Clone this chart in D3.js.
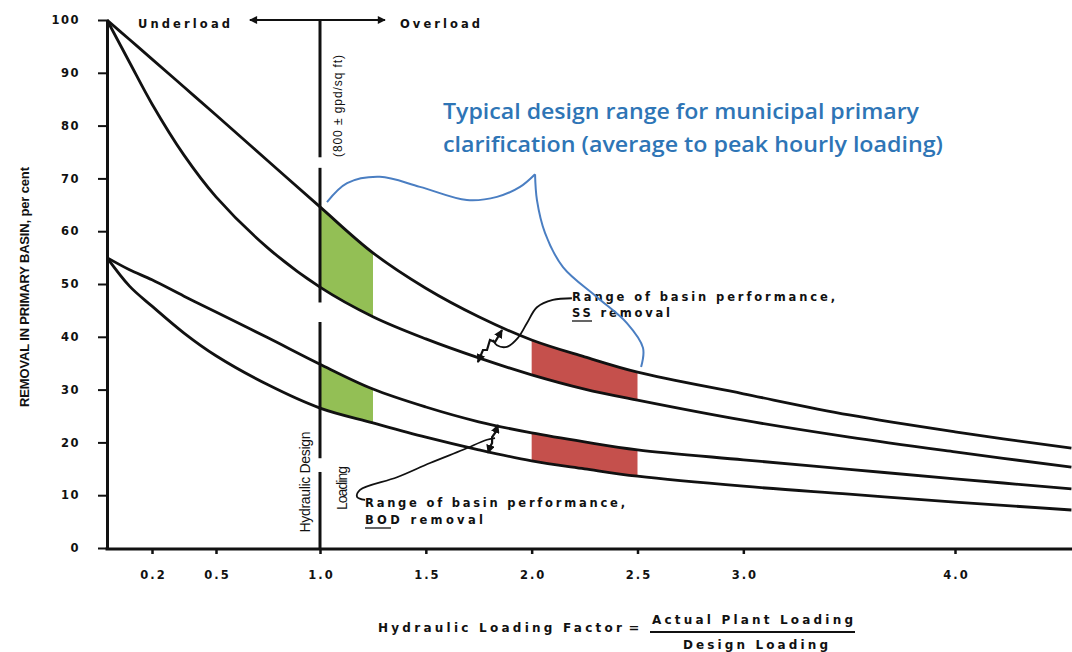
<!DOCTYPE html>
<html>
<head>
<meta charset="utf-8">
<style>
  body { margin: 0; background: #fff; }
  svg { display: block; }
  text { font-family: "DejaVu Sans", "Liberation Sans", sans-serif; fill: #111; }
</style>
</head>
<body>
<script src="https://cdn.jsdelivr.net/npm/d3@7"></script>
<script>
var width = 1072, height = 652;

var loadFactor = [0, 0.1, 0.2, 0.35, 0.5, 0.75, 1.0, 1.25, 1.5, 1.75, 2.0, 2.25, 2.5, 3.0, 3.5, 4.0, 4.55];
// removal, per cent
var ssUpper  = [100, 96.3, 92.6, 87.3, 82.0, 73.3, 64.6, 55.9, 49.2, 43.8, 39.4, 36.2, 33.3, 29.2, 25.2, 22.0, 18.9];
var ssLower  = [100, 92.0, 84.1, 74.4, 66.5, 56.8, 49.4, 43.8, 39.6, 36.0, 32.8, 30.1, 28.0, 24.2, 21.0, 18.2, 15.3];
var bodUpper = [55, 52.7, 50.8, 47.7, 44.7, 39.8, 34.8, 30.1, 26.7, 23.9, 21.8, 20.1, 18.6, 16.7, 14.9, 13.1, 11.2];
var bodLower = [55, 49.6, 45.8, 40.7, 36.4, 30.9, 26.5, 23.7, 21.0, 18.6, 16.5, 15.0, 13.6, 11.7, 10.2, 8.7, 7.2];

var yTicks = [0, 10, 20, 30, 40, 50, 60, 70, 80, 90, 100];
var xTicks = [0.2, 0.5, 1.0, 1.5, 2.0, 2.5, 3.0, 4.0];
var xTickLabels = ["0.2", "0.5", "1.0", "1.5", "2.0", "2.5", "3.0", "4.0"];

var designRange = [1.0, 1.25];   // green
var peakRange = [2.0, 2.5];      // red
var designLine = [[100, 74], [72, 46.5], [42.8, 17], [14.4, 0]];  // broken vertical at 1.0
var loadArrow = [0.663, 1.307];

// annotation paths, [factor, per cent]
var braceLeft = [[1.033, 65.5], [1.128, 69.1], [1.283, 70.3], [1.472, 68.4], [1.694, 65.9], [1.836, 66.5], [1.945, 68.4], [2.016, 70.8]];
var braceRight = [[2.016, 70.8], [2.025, 65.9], [2.063, 59.7], [2.148, 53.2], [2.309, 47.5], [2.450, 42.6], [2.526, 37.9], [2.517, 34.3]];
var ssArrow = [[1.86, 41.3], [1.827, 39.0], [1.803, 39.4], [1.789, 37.5], [1.770, 37.5], [1.746, 35.2]];
var bodArrow = [[1.841, 23.3], [1.827, 21.8], [1.813, 21.0], [1.813, 19.9], [1.803, 19.1], [1.794, 18.0]];
var ssLeader = [[2.19, 47.3], [2.10, 47.0], [2.025, 45.6], [1.978, 42.6], [1.935, 39.8], [1.883, 38.1], [1.836, 38.4], [1.817, 39.4]];
var bodLeader = [[1.213, 9.1], [1.175, 9.7], [1.189, 11.0], [1.364, 13.4], [1.52, 16.1], [1.676, 18.6], [1.789, 20.5], [1.827, 20.8]];

var rows = loadFactor.map(function(f, i) {
  return { f: f, ssU: ssUpper[i], ssL: ssLower[i], bodU: bodUpper[i], bodL: bodLower[i] };
});

var x = d3.scaleLinear().domain([0, 0.2, 0.5, 1, 4]).range([107, 152, 216, 320, 955]);
var y = d3.scaleLinear().domain([0, 100]).range([548, 20]);

var svg = d3.select("body").append("svg")
    .attr("width", width)
    .attr("height", height);

svg.append("rect").attr("width", width).attr("height", height).attr("fill", "#fff");

var defs = svg.append("defs");
function marker(id, w, h) {
  defs.append("marker")
      .attr("id", id)
      .attr("viewBox", "0 0 10 10")
      .attr("refX", 9).attr("refY", 5)
      .attr("markerWidth", w).attr("markerHeight", h)
      .attr("orient", "auto-start-reverse")
    .append("path")
      .attr("d", "M0,0L10,5L0,10Z")
      .attr("fill", "#111");
}
marker("ah", 6, 4);
marker("ahs", 4, 4);

function clipFor(id, range) {
  defs.append("clipPath").attr("id", id)
    .append("rect")
      .attr("x", x(range[0]))
      .attr("y", 0)
      .attr("width", x(range[1]) - x(range[0]))
      .attr("height", height);
}
clipFor("clipDesign", designRange);
clipFor("clipPeak", peakRange);

var curve = d3.curveCatmullRom.alpha(0.5);

function band(hi, lo) {
  return d3.area()
    .x(function(d) { return x(d.f); })
    .y0(function(d) { return y(d[lo]); })
    .y1(function(d) { return y(d[hi]); })
    .curve(curve);
}

// shaded ranges
[["clipDesign", "#93bf55"], ["clipPeak", "#c5504c"]].forEach(function(c) {
  var g = svg.append("g").attr("clip-path", "url(#" + c[0] + ")");
  g.append("path").datum(rows).attr("d", band("ssU", "ssL")).attr("fill", c[1]);
  g.append("path").datum(rows).attr("d", band("bodU", "bodL")).attr("fill", c[1]);
});

// curves
["ssU", "ssL", "bodU", "bodL"].forEach(function(k) {
  svg.append("path")
    .datum(rows)
    .attr("fill", "none")
    .attr("stroke", "#111")
    .attr("stroke-width", 2.8)
    .attr("stroke-linejoin", "round")
    .attr("d", d3.line()
      .x(function(d) { return x(d.f); })
      .y(function(d) { return y(d[k]); })
      .curve(curve));
});

// axes
var yAxis = svg.append("g")
    .attr("transform", "translate(" + x(0) + ",0)")
    .call(d3.axisLeft(y).tickValues(yTicks).tickSize(9).tickSizeOuter(0).tickPadding(18));
yAxis.attr("font-family", null).attr("font-size", null);
yAxis.select(".domain").attr("stroke", "#111").attr("stroke-width", 3);
yAxis.selectAll(".tick line").attr("stroke", "#111").attr("stroke-width", 2);
yAxis.selectAll(".tick text")
    .style("font-size", "11.5px").style("font-weight", "bold").style("letter-spacing", "1.5px");

var xAxis = svg.append("g")
    .attr("transform", "translate(0,549)")
    .call(d3.axisBottom(x).tickValues(xTicks).tickSize(5).tickPadding(17)
      .tickFormat(function(d, i) { return xTickLabels[i]; }));
xAxis.attr("font-family", null).attr("font-size", null);
xAxis.select(".domain").remove();
xAxis.selectAll(".tick line").attr("stroke", "#111").attr("stroke-width", 2.5);
xAxis.selectAll(".tick text")
    .attr("dx", "1px")
    .style("font-size", "11.5px").style("font-weight", "bold").style("letter-spacing", "2px");
xAxis.append("line")
    .attr("x1", x(0) - 1.5).attr("x2", width)
    .attr("stroke", "#111").attr("stroke-width", 3);

// design loading line at 1.0
svg.append("g").selectAll("line")
  .data(designLine)
  .enter().append("line")
    .attr("x1", x(1)).attr("x2", x(1))
    .attr("y1", function(d) { return y(d[0]); })
    .attr("y2", function(d) { return y(d[1]); })
    .attr("stroke", "#111").attr("stroke-width", 3);

// underload / overload arrow
svg.append("line")
    .attr("x1", x(loadArrow[0])).attr("x2", x(loadArrow[1]))
    .attr("y1", y(100)).attr("y2", y(100))
    .attr("stroke", "#111").attr("stroke-width", 2)
    .attr("marker-start", "url(#ah)").attr("marker-end", "url(#ah)");

function txt(s, px, py, opt) {
  opt = opt || {};
  var t = svg.append("text")
      .attr("x", px).attr("y", py)
      .attr("text-anchor", opt.anchor || "start")
      .style("font-size", (opt.size || 11) + "px")
      .style("font-weight", opt.weight || "bold")
      .text(s);
  if (opt.family) t.style("font-family", opt.family);
  if (opt.fill) t.style("fill", opt.fill);
  if (opt.len) t.attr("textLength", opt.len).attr("lengthAdjust", opt.adjust || "spacing");
  if (opt.rotate) t.attr("transform", "rotate(-90," + px + "," + py + ")");
  return t;
}

txt("Underload", 138, 28, { size: 11.5, len: 92 });
txt("Overload", 400, 28, { size: 11.5, len: 80 });

var narrow = "Liberation Sans Narrow, Liberation Sans";
txt("(800 \u00b1 gpd/sq ft)", 342, 106, { anchor: "middle", size: 12, weight: "normal", family: narrow, len: 102, rotate: true });
txt("Hydraulic Design", 310, 482, { anchor: "middle", size: 14, weight: "normal", family: narrow, len: 101, rotate: true });
txt("Loading", 347, 488, { anchor: "middle", size: 14, weight: "normal", family: narrow, len: 44, rotate: true });

txt("REMOVAL IN PRIMARY BASIN, per cent", 29, 287, { anchor: "middle", size: 13, family: narrow, len: 240, rotate: true });

// x axis title
txt("Hydraulic Loading Factor", 378, 632, { size: 12, len: 244 });
txt("=", 634, 632, { anchor: "middle", size: 13 });
txt("Actual Plant Loading", 652, 624, { size: 12, len: 201 });
svg.append("line").attr("x1", 650).attr("x2", 855).attr("y1", 632).attr("y2", 632)
    .attr("stroke", "#111").attr("stroke-width", 2);
txt("Design Loading", 683, 649, { size: 12, len: 145 });

// callouts
txt("Range of basin performance,", 572, 301, { size: 11.5, len: 263 });
txt("SS removal", 572, 317, { size: 11.5, len: 98 });
svg.append("line").attr("x1", 572).attr("x2", 592).attr("y1", 321).attr("y2", 321)
    .attr("stroke", "#111").attr("stroke-width", 1.3);
txt("Range of basin performance,", 365, 507, { size: 11.5, len: 260 });
txt("BOD removal", 365, 524, { size: 11.5, len: 118 });
svg.append("line").attr("x1", 365).attr("x2", 391).attr("y1", 528).attr("y2", 528)
    .attr("stroke", "#111").attr("stroke-width", 1.3);

var pathLine = d3.line()
    .x(function(d) { return x(d[0]); })
    .y(function(d) { return y(d[1]); });

[ssLeader, bodLeader].forEach(function(pts) {
  svg.append("path")
    .attr("d", pathLine.curve(d3.curveCatmullRom)(pts))
    .attr("fill", "none").attr("stroke", "#111").attr("stroke-width", 1.8);
});
[ssArrow, bodArrow].forEach(function(pts) {
  svg.append("path")
    .attr("d", pathLine.curve(d3.curveLinear)(pts))
    .attr("fill", "none").attr("stroke", "#111").attr("stroke-width", 2.2)
    .attr("marker-start", "url(#ahs)").attr("marker-end", "url(#ahs)");
});

// blue brace and note
[braceLeft, braceRight].forEach(function(pts) {
  svg.append("path")
    .attr("d", pathLine.curve(d3.curveCatmullRom)(pts))
    .attr("fill", "none").attr("stroke", "#4a7ec2").attr("stroke-width", 2);
});
txt("Typical design range for municipal primary", 443, 119, { size: 21, weight: 600, family: "Open Sans", fill: "#2e75b6", len: 476, adjust: "spacingAndGlyphs" });
txt("clarification (average to peak hourly loading)", 443, 152, { size: 21, weight: 600, family: "Open Sans", fill: "#2e75b6", len: 500, adjust: "spacingAndGlyphs" });
</script>
</body>
</html>
